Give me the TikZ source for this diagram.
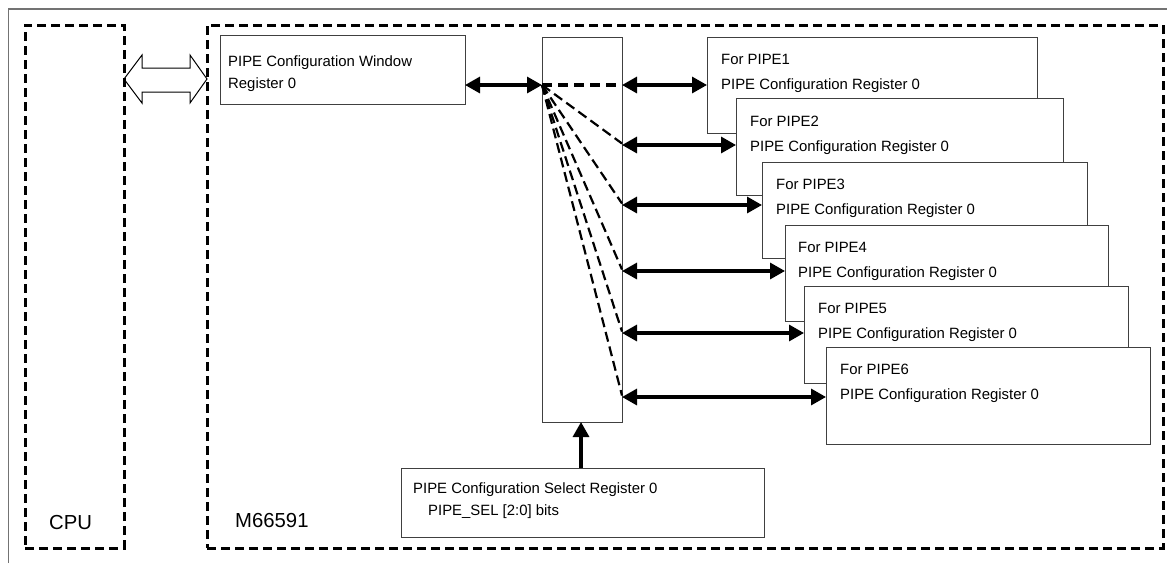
\documentclass[tikz,border=0pt]{standalone}
\usepackage{fontspec}
\setmainfont{Liberation Sans}
\usetikzlibrary{arrows.meta,calc}
\begin{document}
\begin{tikzpicture}[x=1pt,y=-1pt,
  regbox/.style={draw=black!75, line width=1pt, fill=white, anchor=north west, inner sep=0pt, outer sep=0pt},
  lbl/.style={anchor=base west, inner sep=0pt, font=\fontsize{14.9}{18}\selectfont},
  biglbl/.style={anchor=base west, inner sep=0pt, font=\fontsize{20.3}{24}\selectfont},
  zone/.style={draw, line width=3pt, dash pattern=on 9pt off 5pt, anchor=north west, inner sep=0pt, outer sep=0pt},
  bus/.style={line width=3.2pt, {Triangle[length=15pt,width=16pt]}-{Triangle[length=15pt,width=16pt]}},
  upbus/.style={line width=3.2pt, -{Triangle[length=15pt,width=16pt]}},
  thickdash/.style={line width=3.2pt, dash pattern=on 10pt off 6pt},
  fan/.style={line width=2.2pt, dash pattern=on 10pt off 5pt},
  hollow/.style={draw, line width=1pt, line join=miter}
]
\useasboundingbox (0,0) rectangle (1167,563);
% outer frame (partly visible)
\draw[black!55, line width=1.5pt] (8.5,563) -- (8.5,9) -- (1167,9);

% zones
\node[zone, minimum width=99pt, minimum height=523pt] (cpu) at (25,25) {};
\node[zone, minimum width=956pt, minimum height=523pt] (m66) at (207,25) {};
\node[biglbl] (cpul) at (49,529) {CPU};
\node[biglbl] (m66l) at (235,527) {M66591};

% hollow double arrow between CPU and M66591
\coordinate (hl) at (cpu.east |- 0,79);
\coordinate (hr) at (m66.west |- 0,79);
\draw[hollow] (hl) -- ($(hl)+(18,-24)$) -- ($(hl)+(18,-11)$) -- ($(hr)+(-17,-11)$) -- ($(hr)+(-17,-24)$)
  -- (hr) -- ($(hr)+(-17,24)$) -- ($(hr)+(-17,13)$) -- ($(hl)+(18,13)$) -- ($(hl)+(18,24)$) -- cycle;

% window register
\node[regbox, minimum width=245pt, minimum height=69pt] (win) at (220,35) {};
\node[lbl] (winl1) at (228,66) {PIPE Configuration Window};
\node[lbl] (winl2) at (228,88) {Register 0};

% selector (mux)
\node[regbox, minimum width=80pt, minimum height=385pt] (mux) at (542,37) {};

% select register
\node[regbox, minimum width=363pt, minimum height=69pt] (sel) at (401,468) {};
\node[lbl] (sell1) at (413,493.5) {PIPE Configuration Select Register 0};
\node[lbl] (sell2) at (428,515) {PIPE\_SEL [2:0] bits};

% PIPE registers
\node[regbox, minimum width=330pt, minimum height=96pt] (p1) at (707,37) {};
\node[lbl] at (721,64) {For PIPE1};
\node[lbl] at (721,89) {PIPE Configuration Register 0};
\node[regbox, minimum width=327pt, minimum height=97pt] (p2) at (736,98) {};
\node[lbl] at (750,126) {For PIPE2};
\node[lbl] at (750,151) {PIPE Configuration Register 0};
\node[regbox, minimum width=325pt, minimum height=96pt] (p3) at (762,162) {};
\node[lbl] at (776,189) {For PIPE3};
\node[lbl] at (776,214) {PIPE Configuration Register 0};
\node[regbox, minimum width=323pt, minimum height=96pt] (p4) at (785,225) {};
\node[lbl] at (798,252) {For PIPE4};
\node[lbl] at (798,277) {PIPE Configuration Register 0};
\node[regbox, minimum width=324pt, minimum height=97pt] (p5) at (804,286) {};
\node[lbl] at (818,313) {For PIPE5};
\node[lbl] at (818,338) {PIPE Configuration Register 0};
\node[regbox, minimum width=324pt, minimum height=97pt] (p6) at (826,347) {};
\node[lbl] at (840,374) {For PIPE6};
\node[lbl] at (840,399) {PIPE Configuration Register 0};

% connection points on the selector
\coordinate (hub) at (mux.west |- 0,85);
\coordinate (m1) at (mux.east |- 0,85);
\coordinate (m2) at (mux.east |- 0,145);
\coordinate (m3) at (mux.east |- 0,205);
\coordinate (m4) at (mux.east |- 0,271);
\coordinate (m5) at (mux.east |- 0,333);
\coordinate (m6) at (mux.east |- 0,397);

% fan of dashed selections
\draw[thickdash] (hub) -- (m1);
\foreach \m in {m2,m3,m4,m5,m6} \draw[fan] (hub) -- ($(\m)+(0,-1.5)$);

% buses
\draw[bus] (win.east |- hub) -- (hub);
\draw[bus] (m1) -- (m1 -| p1.west);
\draw[bus] (m2) -- (m2 -| p2.west);
\draw[bus] (m3) -- (m3 -| p3.west);
\draw[bus] (m4) -- (m4 -| p4.west);
\draw[bus] (m5) -- (m5 -| p5.west);
\draw[bus] (m6) -- (m6 -| p6.west);
\coordinate (sx) at (581,0);
\draw[upbus] (sel.north -| sx) -- (mux.south -| sx);
\end{tikzpicture}
\end{document}
